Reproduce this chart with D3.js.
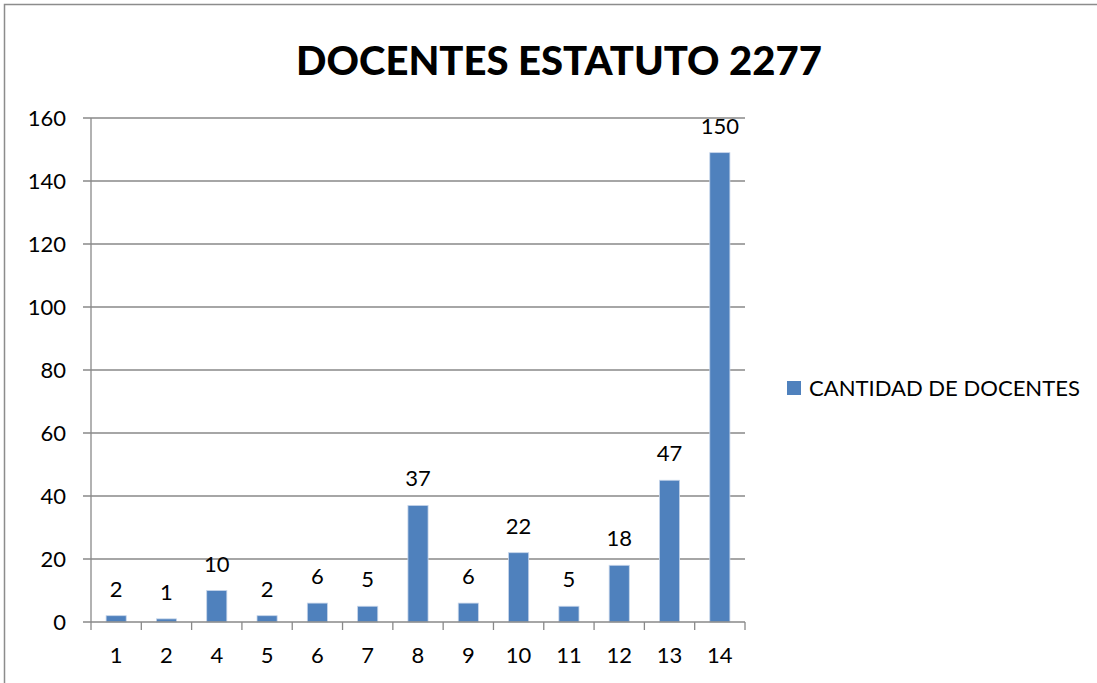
<!DOCTYPE html>
<html>
<head>
<meta charset="utf-8">
<script src="https://cdn.jsdelivr.net/npm/d3@7"></script>
<style>
  body { margin: 0; background: #fff; }
  svg text { font-family: Lato, "Open Sans", sans-serif; fill: #000; }
</style>
</head>
<body>
<div class="chart"></div>
<script>
// data
var categories = ["1", "2", "4", "5", "6", "7", "8", "9", "10", "11", "12", "13", "14"];
var values = [2, 1, 10, 2, 6, 5, 37, 6, 22, 5, 18, 45, 149];
var valueLabels = ["2", "1", "10", "2", "6", "5", "37", "6", "22", "5", "18", "47", "150"];
var yTicks = [0, 20, 40, 60, 80, 100, 120, 140, 160];
var seriesName = "CANTIDAD DE DOCENTES";
var title = "DOCENTES ESTATUTO 2277";

var W = 1097, H = 683;
var margin = {top: 118, right: 352, bottom: 61, left: 91},
    width = W - margin.left - margin.right,
    height = H - margin.top - margin.bottom;

var svg = d3.select(".chart")
    .append("svg")
    .attr("width", W)
    .attr("height", H);

// outer frame
svg.append("rect")
    .attr("x", 4.5).attr("y", 4.5)
    .attr("width", W + 10).attr("height", H + 10)
    .style("fill", "none")
    .style("stroke", "#8c8c8c")
    .style("stroke-width", 1.5);

var t = svg.append("text")
    .attr("x", 559)
    .attr("y", 75)
    .attr("text-anchor", "middle")
    .attr("font-weight", "900")
    .attr("font-size", "40px")
    .text(title);
// fit title width to the reference
var tw = t.node().getComputedTextLength();
t.attr("font-size", (40 * 526 / tw) + "px");

var g = svg.append("g")
    .attr("transform", "translate(" + margin.left + "," + margin.top + ")");

var x = d3.scaleBand()
    .domain(categories)
    .range([0, width])
    .paddingInner(0.6)
    .paddingOuter(0.3);

var y = d3.scaleLinear()
    .domain([0, 160])
    .range([height, 0]);

// gridlines
g.selectAll(".grid")
    .data(yTicks.filter(function(d) { return d > 0; }))
    .enter()
    .append("line")
    .attr("x1", -8).attr("x2", width)
    .attr("y1", function(d) { return y(d); })
    .attr("y2", function(d) { return y(d); })
    .style("stroke", "#898989")
    .style("stroke-width", 1.3);

// y tick labels
g.selectAll(".ylab")
    .data(yTicks)
    .enter()
    .append("text")
    .attr("x", -25)
    .attr("y", function(d) { return y(d) + 8; })
    .attr("text-anchor", "end")
    .attr("font-size", "22px")
    .text(function(d) { return d; });

// bars
g.selectAll(".bar")
    .data(values)
    .enter()
    .append("rect")
    .attr("x", function(d, i) { return x(categories[i]); })
    .attr("y", function(d) { return y(d); })
    .attr("width", x.bandwidth())
    .attr("height", function(d) { return height - y(d); })
    .style("fill", "#4f81bd")
    .style("stroke", "#c6d5ea")
    .style("stroke-width", 0.8);

// value labels
g.selectAll(".vlab")
    .data(valueLabels)
    .enter()
    .append("text")
    .attr("x", function(d, i) { return x(categories[i]) + x.bandwidth() / 2; })
    .attr("y", function(d, i) { return y(values[i]) - 19; })
    .attr("text-anchor", "middle")
    .attr("font-size", "22px")
    .text(function(d) { return d; });

// axes lines
g.append("line")
    .attr("x1", 0).attr("x2", 0)
    .attr("y1", 0).attr("y2", height)
    .style("stroke", "#898989")
    .style("stroke-width", 1.3);
g.append("line")
    .attr("x1", -8).attr("x2", width)
    .attr("y1", height).attr("y2", height)
    .style("stroke", "#898989")
    .style("stroke-width", 1.3);

// x ticks at category boundaries
var step = x.step();
var bounds = categories.map(function(c) { return x(c) - step * 0.3; }).concat([width]);
g.selectAll(".xtick")
    .data(bounds)
    .enter()
    .append("line")
    .attr("x1", function(d) { return d; })
    .attr("x2", function(d) { return d; })
    .attr("y1", height).attr("y2", height + 8)
    .style("stroke", "#898989")
    .style("stroke-width", 1.3);

g.selectAll(".xlab")
    .data(categories)
    .enter()
    .append("text")
    .attr("x", function(d) { return x(d) + x.bandwidth() / 2; })
    .attr("y", height + 41)
    .attr("text-anchor", "middle")
    .attr("font-size", "22px")
    .text(function(d) { return d; });

// legend
var legend = svg.append("g").attr("transform", "translate(787,381)");
legend.append("rect")
    .attr("width", 14).attr("height", 14)
    .style("fill", "#4f81bd");
var lt = legend.append("text")
    .attr("x", 22)
    .attr("y", 15)
    .attr("font-size", "20px")
    .text(seriesName);
var lw = lt.node().getComputedTextLength();
lt.attr("font-size", (20 * 271 / lw) + "px");
</script>
</body>
</html>
